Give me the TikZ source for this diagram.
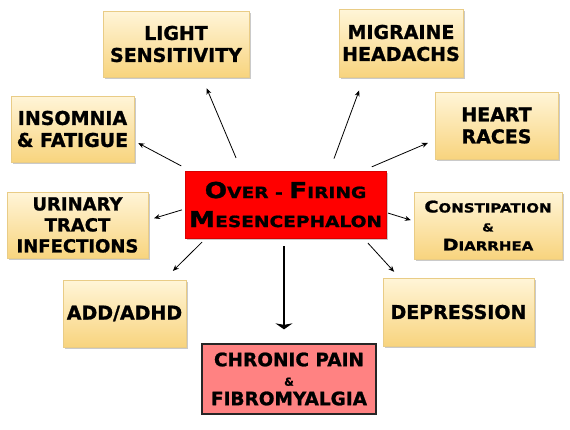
\documentclass[tikz,border=0pt]{standalone}
\usepackage{fontspec}
\setmainfont{DejaVu Sans}[BoldFeatures={FakeBold=1.2}]
\newfontfamily\widesans{DejaVu Sans}[FakeStretch=1.2, BoldFeatures={FakeBold=1.2}]
\usepackage{xcolor}
\usetikzlibrary{arrows.meta, shadows}

\definecolor{boxtop}{HTML}{FFF5D8}
\definecolor{boxbot}{HTML}{F8D47E}
\definecolor{boxedge}{HTML}{E9CC86}
\definecolor{painred}{HTML}{FF8282}
\newcommand{\smc}[2]{{\fontsize{#1}{#1}\selectfont #2}}

\begin{document}
\begin{tikzpicture}[
        x=1pt, y=-1pt,
        symptom/.style={rectangle, draw=boxedge, line width=0.6pt, top color=boxtop, bottom color=boxbot,
            align=center, inner sep=0pt, font=\bfseries\fontsize{19}{22}\selectfont,
            drop shadow={shadow xshift=1.5pt, shadow yshift=-1.5pt, opacity=0.35, fill=black!60}},
        hubbox/.style={rectangle, fill=red, draw=red!85!black, line width=0.4pt, align=center, inner sep=0pt,
            font=\bfseries\widesans\fontsize{22}{29}\selectfont,
            drop shadow={shadow xshift=1.5pt, shadow yshift=-1.5pt, opacity=0.35, fill=black!60}},
        painbox/.style={rectangle, fill=painred, draw=black!85, line width=1.3pt, align=center, inner sep=0pt,
            font=\bfseries\fontsize{18.5}{19.5}\selectfont},
        arr/.style={-{Stealth[length=6pt, width=5pt]}, line width=0.8pt},
        bigarr/.style={-{Stealth[length=6pt, width=17pt, inset=1.5pt]}, line width=2pt}
    ]
        \useasboundingbox (0,0) rectangle (570,429);

        % centre
        \node[hubbox, minimum width=201pt, minimum height=67pt] (hub) at (285.5,204.5)
            {O\smc{15.5}{VER - }F\smc{15.5}{IRING}\\M\smc{15.5}{ESENCEPHALON}};

        % symptoms
        \node[symptom, minimum width=146pt, minimum height=66pt] (light)    at (176,44)     {LIGHT\\SENSITIVITY};
        \node[symptom, minimum width=124pt, minimum height=68pt] (migraine) at (401,43)     {MIGRAINE\\HEADACHS};
        \node[symptom, minimum width=123pt, minimum height=66pt] (insomnia) at (72.5,129)   {INSOMNIA\\\& FATIGUE};
        \node[symptom, minimum width=123pt, minimum height=67pt] (heart)    at (496.5,125.5) {HEART\\RACES};
        \node[symptom, minimum width=141pt, minimum height=66pt,
              font=\bfseries\fontsize{18}{21}\selectfont] (urinary)  at (77.5,225)    {URINARY\\TRACT\\INFECTIONS};
        \node[symptom, minimum width=148pt, minimum height=67pt,
              font=\bfseries\widesans\fontsize{16}{19}\selectfont] (bowel) at (488,225.5)
            {C\smc{12.5}{ONSTIPATION}\\\smc{11}{\&}\\D\smc{12.5}{IARRHEA}};
        \node[symptom, minimum width=123pt, minimum height=67pt] (adhd)     at (124.5,313.5) {ADD/ADHD};
        \node[symptom, minimum width=151pt, minimum height=68pt] (depress)  at (458.5,312)   {DEPRESSION};

        % result
        \node[painbox, minimum width=174pt, minimum height=70pt] (pain) at (289,379)
            {CHRONIC PAIN\\\smc{11}{\&}\\FIBROMYALGIA};

        % connectors
        \draw[arr, shorten <=14pt, shorten >=12pt] ([xshift=-44pt]hub.north) -- ([xshift=26pt]light.south);
        \draw[arr, shorten <=13pt, shorten >=14pt] ([xshift=44pt]hub.north) -- ([xshift=-37pt]migraine.south);
        \draw[arr, shorten <=4pt, shorten >=4.5pt] ([yshift=3pt]hub.north west) -- ([yshift=-12pt]insomnia.east);
        \draw[arr, shorten <=10pt, shorten >=7.5pt] ([xshift=77pt]hub.north) -- ([yshift=-14.5pt]heart.west);
        \draw[arr, shorten <=3pt, shorten >=6pt] ([yshift=-4.5pt]hub.west) -- ([yshift=5pt]urinary.east);
        \draw[arr, shorten <=2pt, shorten >=3pt] ([yshift=-8pt]hub.east) -- ([yshift=4.5pt]bowel.west);
        \draw[arr, shorten <=5.5pt, shorten >=12.5pt] ([xshift=-79.5pt]hub.south) -- ([xshift=39.5pt]adhd.north);
        \draw[arr, shorten <=6.5pt, shorten >=8pt] ([xshift=78pt]hub.south) -- ([xshift=-59pt]depress.north);
        \draw[bigarr, shorten <=8pt, shorten >=14pt] ([xshift=-1.5pt]hub.south) -- ([xshift=-5pt]pain.north);
    \end{tikzpicture}
\end{document}
